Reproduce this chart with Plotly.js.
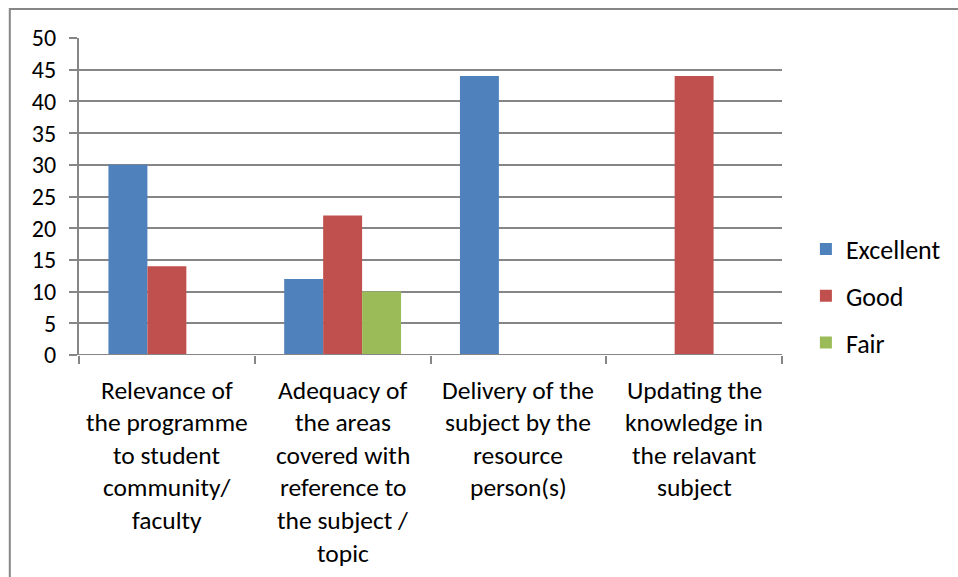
<!DOCTYPE html>
<html>
<head>
<meta charset="utf-8">
<script src="https://cdn.plot.ly/plotly-3.0.1.min.js"></script>
<style>html,body{margin:0;padding:0;background:#fff;}#chart{width:958px;height:577px;}</style>
</head>
<body>
<div id="chart"></div>
<script>
var categories = [
  "Relevance of<br>the programme<br>to student<br>community/<br>faculty",
  "Adequacy of<br>the areas<br>covered with<br>reference to<br>the subject /<br>topic",
  "Delivery of the<br>subject by the<br>resource<br>person(s)",
  "Updating the<br>knowledge in<br>the relavant<br>subject"
];
var seriesNames = ["Excellent", "Good", "Fair"];
var excellent = [30, 12, 44, 0];
var good = [14, 22, 0, 44];
var fair = [0, 10, 0, 0];
var colors = ["#4f81bd", "#c0504d", "#9bbb59"];
var yTicks = [0, 5, 10, 15, 20, 25, 30, 35, 40, 45, 50];

var FONT = "Carlito, Calibri, Lato, 'Open Sans', sans-serif";
var values = [excellent, good, fair];
var traces = values.map(function(v, k){
  return {
    type: "bar", name: seriesNames[k], x: categories, y: v,
    marker: {color: colors[k], line: {width: 0}},
    legendgroup: "g" + k, hoverinfo: "y"
  };
});

// category labels as annotations, one per line for Excel-like line spacing
var annotations = [];
categories.forEach(function(c, i){
  c.split("<br>").forEach(function(line, j){
    annotations.push({
      x: i, xref: "x", y: 0, yref: "paper", yanchor: "middle",
      yshift: -35 - j * 32.6, text: line, showarrow: false,
      font: {family: FONT, size: 25.5, color: "#000"}
    });
  });
});

var layout = {
  width: 958, height: 577,
  margin: {l: 79, r: 173, t: 38, b: 222},
  paper_bgcolor: "#fff", plot_bgcolor: "#fff",
  barmode: "group", bargap: 0.335, bargroupgap: 0,
  font: {family: FONT, size: 25, color: "#000"},
  xaxis: {
    type: "category", range: [-0.5, 3.5], showticklabels: false,
    showgrid: false, zeroline: false, showline: false,
    ticks: "outside", tickson: "boundaries", ticklen: 8, tickcolor: "#868686", tickwidth: 2
  },
  yaxis: {
    range: [0, 50], tickvals: yTicks, ticktext: yTicks.map(String),
    showgrid: true, gridcolor: "#868686", gridwidth: 2,
    zeroline: false, showline: true, linecolor: "#868686", linewidth: 2,
    ticks: "outside", ticklen: 8, tickcolor: "#868686", tickwidth: 2,
    ticklabelstandoff: 8,
    tickfont: {family: FONT, size: 24, color: "#000"}
  },
  showlegend: true,
  legend: {
    x: 1.034, xanchor: "left", y: 0.186, yanchor: "middle",
    traceorder: "grouped", tracegroupgap: 10,
    font: {family: FONT, size: 26, color: "#000"},
    bgcolor: "rgba(0,0,0,0)"
  },
  annotations: annotations,
  shapes: [
    {type: "rect", xref: "paper", yref: "paper",
     x0: (9.5 - 79) / 706, x1: 1.4, y0: -1, y1: (355 - 9) / 317,
     line: {color: "#868686", width: 2}, layer: "below"},
    {type: "line", xref: "paper", yref: "y", x0: 0, x1: 1, y0: 0, y1: 0,
     line: {color: "#868686", width: 2}}
  ]
};

Plotly.newPlot("chart", traces, layout, {displayModeBar: false, staticPlot: true});
</script>
</body>
</html>
